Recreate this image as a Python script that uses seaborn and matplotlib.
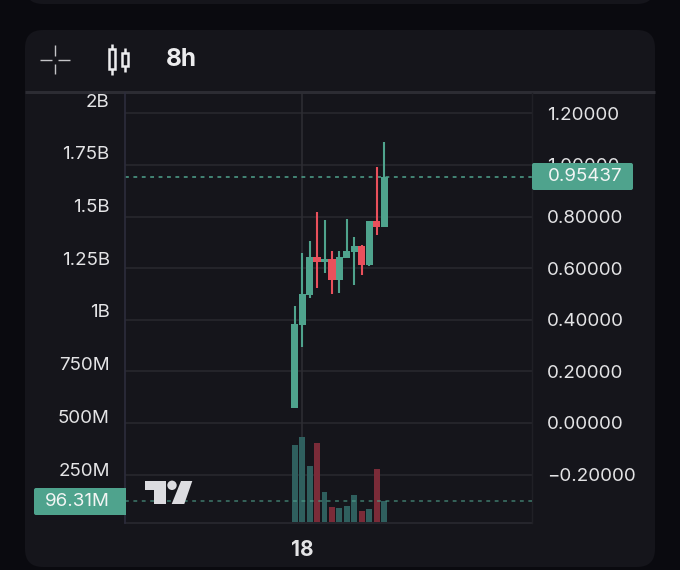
import matplotlib
matplotlib.use("Agg")
import matplotlib.pyplot as plt
from matplotlib.patches import FancyBboxPatch, Polygon, Circle, Rectangle
import pandas as pd
import seaborn as sns

# candle data
candle_idx = list(range(13))
opens = [0.057, 0.380, 0.497, 0.645, 0.624, 0.634, 0.554, 0.641, 0.663, 0.686, 0.612, 0.784, 0.761]
closes = [0.384, 0.500, 0.645, 0.625, 0.634, 0.554, 0.642, 0.666, 0.686, 0.612, 0.784, 0.761, 0.95437]
highs = [0.453, 0.658, 0.707, 0.819, 0.787, 0.668, 0.668, 0.791, 0.722, 0.690, 0.784, 0.991, 1.090]
lows = [0.057, 0.296, 0.483, 0.524, 0.583, 0.500, 0.505, 0.641, 0.535, 0.574, 0.608, 0.729, 0.761]
volumes = [363e6, 404e6, 265e6, 372e6, 139e6, 69e6, 64e6, 77e6, 126e6, 50e6, 59e6, 252e6, 96.31e6]

price_ticks = [-0.2, 0.0, 0.2, 0.4, 0.6, 0.8, 1.0, 1.2]
price_labels = ["\u22120.20000", "0.00000", "0.20000", "0.40000", "0.60000", "0.80000", "1.00000", "1.20000"]
vol_ticks = [250e6, 500e6, 750e6, 1e9, 1.25e9, 1.5e9, 1.75e9, 2e9]
vol_labels = ["250M", "500M", "750M", "1B", "1.25B", "1.5B", "1.75B", "2B"]
last_price = 0.95437
last_volume = 96.31e6
last_price_label = "0.95437"
last_volume_label = "96.31M"
time_tick = [1]
time_label = ["18"]

OUTER = "#0a0a0f"
PANEL = "#15151b"
GRID = "#29292f"
UP = "#4fa38d"
DOWN = "#e9505c"
VOL_UP = "#2f5f5e"
VOL_DOWN = "#7a2b38"
TEXT = "#e4e4e6"

sns.set_theme(style="dark")
plt.rcParams["font.family"] = ["Inter", "DejaVu Sans"]

W, H = 680, 570
fig = plt.figure(figsize=(W / 100, H / 100), dpi=100, facecolor=OUTER)

# page background: the two rounded cards
bg = fig.add_axes([0, 0, 1, 1], zorder=0)
bg.set_xlim(0, W)
bg.set_ylim(H, 0)
bg.axis("off")
for (x0, y0, w, h) in [(25, -60, 630, 64), (25, 30, 630, 537)]:
    bg.add_patch(FancyBboxPatch((x0 + 18, y0 + 18), w - 36, h - 36,
                                boxstyle="round,pad=18", fc=PANEL, ec="none"))
bg.plot([25, 655], [91.5, 91.5], color="#2c2c33", lw=2.2, solid_capstyle="butt")

# volume axis on the left, price axis on the right
left, right, top, bottom = 125, 532, 93, 523
rect = [left / W, 1 - bottom / H, (right - left) / W, (bottom - top) / H]
ax2 = fig.add_axes(rect, zorder=1)
ax = ax2.twinx()
ax.set_zorder(2)
ax.patch.set_visible(False)
ax2.patch.set_visible(False)

df = pd.DataFrame({
    "idx": candle_idx,
    "volume": volumes,
    "side": ["up" if c >= o else "down" for o, c in zip(opens, closes)],
})

# price side
for i, o, c, hi, lo, side in zip(candle_idx, opens, closes, highs, lows, df["side"]):
    col = UP if side == "up" else DOWN
    ax2.vlines(i, lo, hi, color=col, lw=1.5, zorder=3)
    ax2.bar(i, abs(c - o), bottom=min(o, c), width=0.97, color=col, linewidth=0, zorder=4)
ax2.axhline(last_price, color=UP, lw=1.1, ls=(0, (2.5, 3)), zorder=2)
ax2.axvline(1, color="#2e2e34", lw=1.1, zorder=1)

ax2.set_ylim(-0.388, 1.279)
ax2.yaxis.tick_right()
ax2.set_yticks(price_ticks, price_labels)
ax2.tick_params(axis="y", length=0, pad=11, labelsize=13.5, labelcolor=TEXT)
ax2.grid(True, axis="y", color=GRID, lw=1.1)
ax2.grid(False, axis="x")
for name, sp in ax2.spines.items():
    sp.set_visible(name == "bottom")
    sp.set_color("#2a2a32")
    sp.set_linewidth(1.1)

# volume side
sns.barplot(data=df, x="idx", y="volume", hue="side", palette={"up": VOL_UP, "down": VOL_DOWN},
            native_scale=True, dodge=False, width=0.8, saturation=1, legend=False, ax=ax,
            zorder=3, linewidth=0, edgecolor="none")
ax.axhline(last_volume, color=UP, lw=1.1, ls=(0, (2.5, 3)), alpha=0.7, zorder=4)
ax.set_ylim(-6e6, 2.034e9)
ax.yaxis.tick_left()
ax.yaxis.set_label_position("left")
ax.set_yticks(vol_ticks, vol_labels)
ax.set_xlabel("")
ax.set_ylabel("")
ax.tick_params(axis="y", length=0, pad=11, labelsize=13.5, labelcolor=TEXT)
ax.grid(False)
ax.spines["top"].set_visible(False)
ax.spines["bottom"].set_visible(False)
ax.spines["left"].set_color("#2c2c3c")
ax.spines["left"].set_linewidth(1.2)
ax.spines["right"].set_color("#202026")
ax.spines["right"].set_linewidth(1)

# the x axis is shared, so set it after the barplot has touched it
ax2.set_xlim(-22.78, 31.85)
ax2.set_xticks(time_tick, time_label)
ax2.tick_params(axis="x", length=0, pad=12, labelsize=15, labelcolor=TEXT)
for lab in ax2.get_xticklabels():
    lab.set_fontweight("bold")

# toolbar icons, logo and last value tags on top
ov = fig.add_axes([0, 0, 1, 1], zorder=5)
ov.set_xlim(0, W)
ov.set_ylim(H, 0)
ov.axis("off")
ov.patch.set_visible(False)

for xs, ys in [([40, 52], [60, 60]), ([58, 70], [60, 60]), ([55, 55], [45, 56]), ([55, 55], [64, 74])]:
    ov.plot(xs, ys, color="#c4c4c8", lw=1, solid_capstyle="butt")

for cx, y0, y1, w0, w1 in [(111.7, 49, 69, 44, 75), (125, 53, 66, 48, 72)]:
    ov.plot([cx, cx], [w0, y0], color="#ececee", lw=1.8, solid_capstyle="butt")
    ov.plot([cx, cx], [y1, w1], color="#ececee", lw=1.8, solid_capstyle="butt")
    ov.add_patch(Rectangle((cx - 2.8, y0), 5.6, y1 - y0, fc=PANEL, ec="#ececee", lw=1.8))
ov.text(166, 60, "8h", color="#ececee", fontsize=17.5, fontweight="bold", va="center", ha="left")

ov.add_patch(Polygon([(145, 481), (165.7, 481), (165.7, 504), (154.3, 504), (154.3, 490), (145, 490)],
                     fc="#dcdce0", ec="none"))
ov.add_patch(Circle((172, 485.3), 4.7, fc="#dcdce0", ec="none"))
ov.add_patch(Polygon([(181, 481), (192.3, 481), (184.3, 504), (171.7, 504)], fc="#dcdce0", ec="none"))

ov.add_patch(FancyBboxPatch((534, 165), 97, 23, boxstyle="round,pad=2", fc=UP, ec="none"))
ov.text(548, 176.5, last_price_label, color="#f2f5f4", fontsize=13.5, va="center", ha="left")
ov.add_patch(FancyBboxPatch((36, 490), 88, 23, boxstyle="round,pad=2", fc=UP, ec="none"))
ov.add_patch(Rectangle((110, 488), 16, 27, fc=UP, ec="none"))
ov.text(109.5, 501.5, last_volume_label, color="#f2f5f4", fontsize=13.5, va="center", ha="right")

fig.savefig("out.png", dpi=100, facecolor=OUTER)
